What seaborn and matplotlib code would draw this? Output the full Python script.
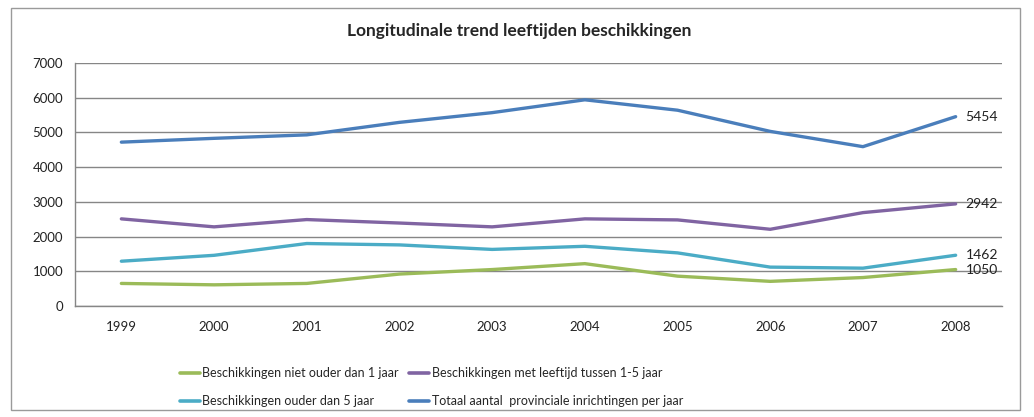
import seaborn as sns
import pandas as pd
import matplotlib.pyplot as plt
from matplotlib.patches import Rectangle
from matplotlib.ticker import FixedLocator

years = [1999, 2000, 2001, 2002, 2003, 2004, 2005, 2006, 2007, 2008]
niet_ouder_1 = [650, 610, 650, 920, 1050, 1220, 860, 710, 820, 1050]
tussen_1_5 = [2510, 2280, 2490, 2390, 2280, 2510, 2480, 2210, 2690, 2942]
ouder_5 = [1290, 1460, 1800, 1760, 1630, 1720, 1530, 1120, 1090, 1462]
totaal = [4720, 4830, 4930, 5290, 5570, 5940, 5640, 5030, 4590, 5454]

series = {
    "Beschikkingen niet ouder dan 1 jaar": niet_ouder_1,
    "Beschikkingen ouder dan 5 jaar": ouder_5,
    "Beschikkingen met leeftijd tussen 1-5 jaar": tussen_1_5,
    "Totaal aantal  provinciale inrichtingen per jaar": totaal,
}
colors = ["#9BBB59", "#4BACC6", "#8064A2", "#4A7EBB"]

df = pd.concat(
    [pd.DataFrame({"year": years, "value": v, "serie": k}) for k, v in series.items()]
)

sns.set_style("white")
plt.rcParams["font.family"] = ["Lato", "DejaVu Sans"]

fig = plt.figure(figsize=(10.34, 4.17), dpi=100)
ax = fig.add_axes([75 / 1034, 1 - 306 / 417, (1002 - 75) / 1034, (306 - 63) / 417])

sns.lineplot(
    data=df,
    x="year",
    y="value",
    hue="serie",
    palette=colors,
    linewidth=2.4,
    ax=ax,
    legend=True,
)

ax.set_xlim(1998.5, 2008.5)
ax.set_ylim(0, 7000)
ax.set_yticks(range(0, 7001, 1000))
ax.set_xticks(years)
ax.set_xticklabels([str(y) for y in years])
ax.xaxis.set_minor_locator(FixedLocator([y + 0.5 for y in range(1998, 2009)]))
ax.tick_params(axis="x", which="major", length=0, pad=11, labelsize=9.5, colors="#222222")
ax.tick_params(axis="x", which="minor", length=5, width=1, color="#868686", direction="out")
ax.tick_params(axis="y", length=5, width=1, color="#868686", direction="out",
               labelsize=9.5, labelcolor="#222222")
ax.yaxis.grid(True, color="#868686", linewidth=1)
ax.set_axisbelow(True)
ax.set_xlabel("")
ax.set_ylabel("")
sns.despine(ax=ax)
for s in ["left", "bottom"]:
    ax.spines[s].set_color("#868686")
    ax.spines[s].set_linewidth(1)

# end-of-line value labels
for vals in [totaal, tussen_1_5, ouder_5, niet_ouder_1]:
    ax.annotate(str(vals[-1]), xy=(years[-1], vals[-1]), xytext=(7, 0),
                textcoords="offset points", va="center", ha="left", fontsize=10,
                color="#222222")

fig.text(519 / 1034, 1 - 31 / 417, "Longitudinale trend leeftijden beschikkingen",
         ha="center", va="center", fontsize=12.5, fontweight="bold")

leg = ax.legend(
    loc="upper left", bbox_to_anchor=(180 / 1034, 1 - 367 / 417),
    bbox_transform=fig.transFigure, ncol=2, frameon=False, borderpad=0,
    borderaxespad=0, fontsize=9, handlelength=1.6, handletextpad=0.2,
    columnspacing=0.8, labelspacing=1.3,
)
for line in leg.get_lines():
    line.set_linewidth(2.6)

fig.patches.append(Rectangle((11 / 1034, 1 - 410 / 417), (1020 - 11) / 1034, (410 - 8) / 417,
                             transform=fig.transFigure, fill=False,
                             edgecolor="#9a9a9a", linewidth=1))

plt.savefig("out.png", dpi=100)
